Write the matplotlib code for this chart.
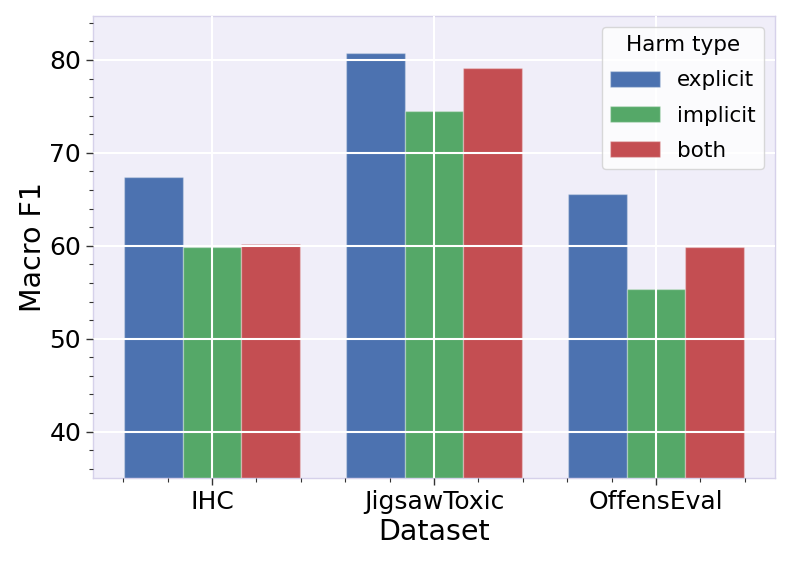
import matplotlib
matplotlib.use("Agg")
import matplotlib.pyplot as plt
import numpy as np
from matplotlib.ticker import AutoMinorLocator

datasets = ["IHC", "JigsawToxic", "OffensEval"]
harm_types = ["explicit", "implicit", "both"]
explicit = [67.4, 80.7, 65.6]
implicit = [59.9, 74.5, 55.3]
both = [60.2, 79.1, 59.9]
series = [explicit, implicit, both]
colors = ["#4C72B0", "#55A868", "#C44E52"]

plt.rcParams['font.family'] = ['DejaVu Sans']
fig = plt.figure(figsize=(7.93, 5.66), dpi=100)
ax = fig.add_axes([93/793, 1-478/566, (775-93)/793, (478-16)/566])
ax.set_facecolor("#F0EEF9")
for s in ax.spines.values():
    s.set_color("#D6D1EA")
    s.set_linewidth(1.0)

x = np.arange(len(datasets))
w = 0.79 / 3
for i, (vals, c, name) in enumerate(zip(series, colors, harm_types)):
    ax.bar(x + (i - 1) * w, vals, width=w, color=c, label=name,
           edgecolor=(1, 1, 1, 0.3), linewidth=1.0, zorder=1)

ax.set_xticks(x)
ax.set_xticklabels(datasets)
ax.set_xlim(-0.536, 2.536)
ymax = max(max(s) for s in series) * 1.05
ax.set_ylim(35, ymax)
ax.set_yticks([40, 50, 60, 70, 80])
ax.xaxis.set_minor_locator(AutoMinorLocator(5))
ax.yaxis.set_minor_locator(AutoMinorLocator(5))
ax.set_axisbelow(False)
ax.grid(True, which="major", color="white", linewidth=1.5, zorder=3)
ax.tick_params(axis="both", which="major", labelsize=18, length=5, width=1,
               color="#333333", direction="out")
ax.tick_params(axis="both", which="minor", length=3, width=0.8, color="#333333")
ax.set_xlabel("Dataset", fontsize=20.5, labelpad=3)
ax.set_ylabel("Macro F1", fontsize=20.5, labelpad=2)

leg = ax.legend(title="Harm type", loc="upper right", fontsize=15.5,
                title_fontsize=15.5, handlelength=2.3, handleheight=0.8,
                framealpha=0.8, fancybox=True, borderaxespad=0.5,
                labelspacing=0.7)
leg.get_frame().set_edgecolor("#D0D0D0")

fig.savefig("out.png", dpi=100)
